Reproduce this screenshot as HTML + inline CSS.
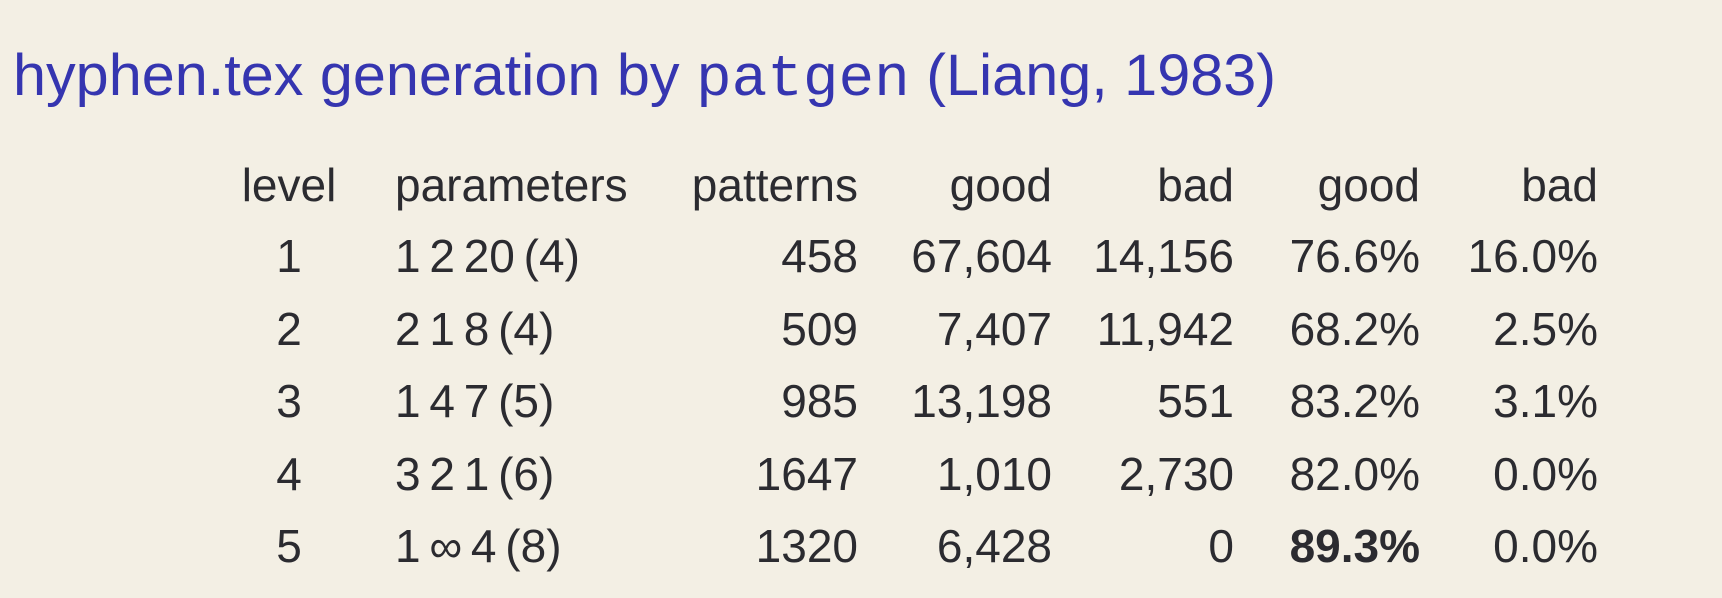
<!DOCTYPE html>
<html><head><meta charset="utf-8"><style>
html,body{margin:0;padding:0;background:#f3efe4;}
svg{display:block;}
text{font-family:"Liberation Sans",sans-serif;fill:#2b2b30;font-size:46px;}
</style></head><body>
<svg width="1722" height="598">
<rect width="1722" height="598" fill="#f3efe4"/>
<text x="13" y="95" style="fill:#3535b0;font-size:58px" textLength="1263" lengthAdjust="spacingAndGlyphs">hyphen.tex generation by <tspan style="font-family:'Liberation Mono',monospace">patgen</tspan> (Liang, 1983)</text>
<g id="tbl"></g>
</svg>
<script>
const headers=["level","parameters","patterns","good","bad","good","bad"];
const levels=["1","2","3","4","5"];
const params=["1 2 20 (4)","2 1 8 (4)","1 4 7 (5)","3 2 1 (6)","1 \u221E 4 (8)"];
const patterns=["458","509","985","1647","1320"];
const good=["67,604","7,407","13,198","1,010","6,428"];
const bad=["14,156","11,942","551","2,730","0"];
const goodPct=["76.6%","68.2%","83.2%","82.0%","89.3%"];
const badPct=["16.0%","2.5%","3.1%","0.0%","0.0%"];
const colX=[289,395,858,1052,1234,1420,1598];
const anchors=["middle","start","end","end","end","end","end"];
const rowY=[272,345,417,490,562];
const g=document.getElementById('tbl');
function t(x,y,s,a,bold,ws){
 const e=document.createElementNS('http://www.w3.org/2000/svg','text');
 e.setAttribute('x',x);e.setAttribute('y',y);e.setAttribute('text-anchor',a);
 if(bold)e.setAttribute('font-weight','bold');
 if(ws)e.setAttribute('word-spacing',ws);
 e.textContent=s;
 
 
 g.appendChild(e);
}
headers.forEach((h,i)=>t(colX[i],201,h,anchors[i],false,null));
const cols=[levels,params,patterns,good,bad,goodPct,badPct];
rowY.forEach((y,r)=>cols.forEach((c,i)=>t(colX[i],y,c[r],anchors[i],r===4&&i===5,i===1?'-4':null)));
</script>
</body></html>
